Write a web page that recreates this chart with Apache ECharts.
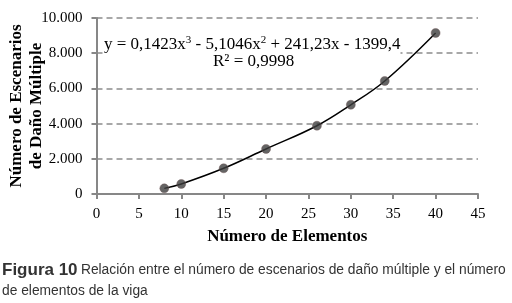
<!DOCTYPE html>
<html>
<head>
<meta charset="utf-8">
<script src="https://cdn.jsdelivr.net/npm/echarts@6/dist/echarts.min.js"></script>
<style>
body { margin: 0; background: #fff; }
#chart { width: 512px; height: 303px; }
</style>
</head>
<body>
<div id="chart"></div>
<script>
// datos
var elementos = [8, 10, 15, 20, 26, 30, 34, 40];
var escenarios = [320, 570, 1460, 2560, 3880, 5070, 6420, 9150];
var xTicks = [0, 5, 10, 15, 20, 25, 30, 35, 40, 45];
var yTicks = [0, 2000, 4000, 6000, 8000, 10000];

var pts = elementos.map(function (x, i) { return [x, escenarios[i]]; });
var serif = '"Liberation Serif", "DejaVu Serif", serif';
var sans = '"Liberation Sans", Arial, sans-serif';

var myChart = echarts.init(document.getElementById('chart'));
var option = {
    animation: false,
    grid: { left: 96.5, right: 34, top: 18, bottom: 109, outerBoundsMode: 'none' },
    xAxis: {
        type: 'value', min: 0, max: 45, interval: 5,
        axisLine: { lineStyle: { color: '#878787', width: 2 } },
        axisTick: { show: true, length: 5, lineStyle: { color: '#878787', width: 2 } },
        splitLine: { show: false },
        axisLabel: { color: '#000', fontFamily: serif, fontSize: 15, margin: 13,
            formatter: function (v) { return xTicks.indexOf(v) >= 0 ? String(v) : ''; } },
        name: 'Número de Elementos', nameLocation: 'middle', nameGap: 34, nameMoveOverlap: false,
        nameTextStyle: { color: '#000', fontFamily: serif, fontSize: 17, fontWeight: 'bold' }
    },
    yAxis: {
        type: 'value', min: 0, max: 10000, interval: 2000,
        axisLine: { show: true, lineStyle: { color: '#878787', width: 2 } },
        axisTick: { show: true, length: 5, lineStyle: { color: '#878787', width: 2 } },
        splitLine: { lineStyle: { color: '#8c8c8c', type: [6, 4], width: 1.5 } },
        axisLabel: { color: '#000', fontFamily: serif, fontSize: 15, margin: 14,
            formatter: function (v) {
                return yTicks.indexOf(v) >= 0 ? String(v).replace(/\B(?=(\d{3})+(?!\d))/g, '.') : '';
            } },
        name: 'Número de Escenarios\nde Daño Múltiple', nameLocation: 'middle', nameGap: 50, nameMoveOverlap: false,
        nameTextStyle: { color: '#000', fontFamily: serif, fontSize: 17, fontWeight: 'bold', lineHeight: 20 }
    },
    series: [
        {
            type: 'line', data: pts, smooth: 0.4, showSymbol: false, z: 2,
            lineStyle: { color: '#000', width: 1.5 }
        },
        {
            type: 'scatter', data: pts, symbolSize: 9, z: 3,
            itemStyle: { color: '#3f3f3f', borderColor: '#6b4f4f', borderWidth: 0.5 }
        }
    ],
    graphic: [
        {
            type: 'text', left: 104, top: 35, z: 10,
            style: {
                text: '{a|y = 0,1423x}{s|3}{a| - 5,1046x}{s|2}{a| + 241,23x - 1399,4}',
                rich: {
                    a: { fontFamily: serif, fontSize: 17, fill: '#000', lineHeight: 19 },
                    s: { fontFamily: serif, fontSize: 11, fill: '#000', verticalAlign: 'top', lineHeight: 19, padding: [0, 0, 7, 0] }
                },
                backgroundColor: '#fff'
            }
        },
        {
            type: 'text', left: 213, top: 53, z: 10,
            style: { text: 'R² = 0,9998', fontFamily: serif, fontSize: 17, fill: '#000', backgroundColor: '#fff' }
        },
        {
            type: 'text', left: 2, top: 262,
            style: {
                text: '{b|Figura 10} {r|Relación entre el número de escenarios de daño múltiple y el número}\n{r|de elementos de la viga}',
                rich: {
                    b: { fontFamily: sans, fontSize: 17, fontWeight: 'bold', fill: '#333', lineHeight: 21 },
                    r: { fontFamily: sans, fontSize: 13.8, fill: '#333', lineHeight: 21 }
                }
            }
        }
    ]
};
myChart.setOption(option);
</script>
</body>
</html>
